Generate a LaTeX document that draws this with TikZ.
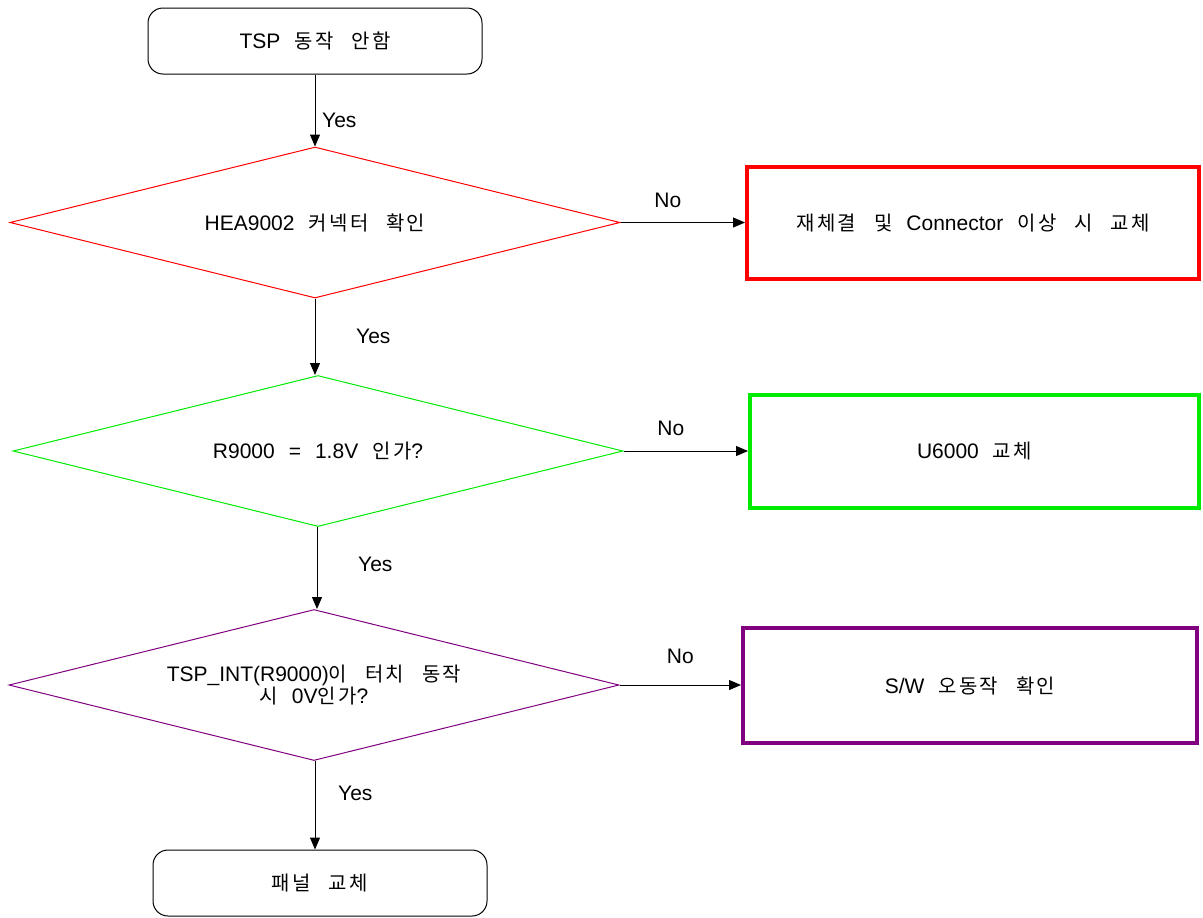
\documentclass[tikz,border=0pt]{standalone}
\usepackage{fontspec}
\setmainfont[WordSpace=2.4]{Liberation Sans}
\newfontfamily\kr[Scale=0.95,LetterSpace=12,WordSpace=2.6]{Noto Sans CJK KR}
\usetikzlibrary{shapes.geometric,arrows.meta,positioning}
\definecolor{chkred}{RGB}{255,0,0}
\definecolor{chkgreen}{RGB}{0,235,0}
\definecolor{chkpurple}{RGB}{128,0,128}
\begin{document}
\begin{tikzpicture}[x=0.5pt,y=-0.5pt,
	font=\fontsize{10.5pt}{11pt}\selectfont,
	term/.style={draw,line width=0.5pt,rounded corners=7.5pt,minimum width=167pt,minimum height=33pt},
	decision/.style={diamond,aspect=4,draw,line width=0.5pt,inner sep=0pt,minimum width=305pt,minimum height=75.5pt,align=center},
	action/.style={rectangle,draw,line width=2pt,minimum width=226pt,minimum height=56.5pt},
	flow/.style={line width=0.5pt,-{Triangle[length=6pt,width=5pt]}}]
	\useasboundingbox (0,0) rectangle (1203,917);

	\node (start) [term] at (315,41) {TSP {\kr 동작 안함}};
	\node (hea) [decision,draw=chkred] at (315,222.5) {HEA9002 {\kr 커넥터 확인}};
	\node (volt) [decision,draw=chkgreen] at (318,451) {R9000 = 1.8V {\kr 인가}?};
	\node (int) [decision,draw=chkpurple] at (314,685) {TSP\_INT(R9000){\kr 이 터치 동작}\\{\kr 시} 0V{\kr 인가}?};
	\node (panel) [term] at (320,883) {\kr 패널 교체};

	\node (conn) [action,draw=chkred,minimum width=226pt,minimum height=56pt] at (973,223) {{\kr 재체결 및} Connector {\kr 이상 시 교체}};
	\node (ic) [action,draw=chkgreen,minimum width=224.5pt,minimum height=56.5pt] at (974.5,451.5) {U6000 {\kr 교체}};
	\node (sw) [action,draw=chkpurple,minimum width=227pt,minimum height=57.5pt] at (970,685.5) {S/W {\kr 오동작 확인}};

	\draw[flow] (start.south) -- (start.south |- hea.north) node[pos=.64,right=0pt] {Yes};
	\draw[flow] (hea.south) -- (hea.south |- volt.north) node[pos=.5,right=17pt] {Yes};
	\draw[flow] ([xshift=-0.5pt]volt.south) -- ([xshift=-0.5pt]volt.south |- int.north) node[pos=.46,right=17pt] {Yes};
	\draw[flow] ([xshift=0.5pt]int.south) -- ([xshift=0.5pt]int.south |- panel.north) node[pos=.36,right=8pt] {Yes};

	\draw[flow] (hea.east) -- (hea.east -| conn.west) node[pos=.38,above=4pt] {No};
	\draw[flow] (volt.east) -- (volt.east -| ic.west) node[pos=.38,above=4pt] {No};
	\draw[flow] (int.east) -- (int.east -| sw.west) node[pos=.5,above=7pt] {No};
\end{tikzpicture}
\end{document}
